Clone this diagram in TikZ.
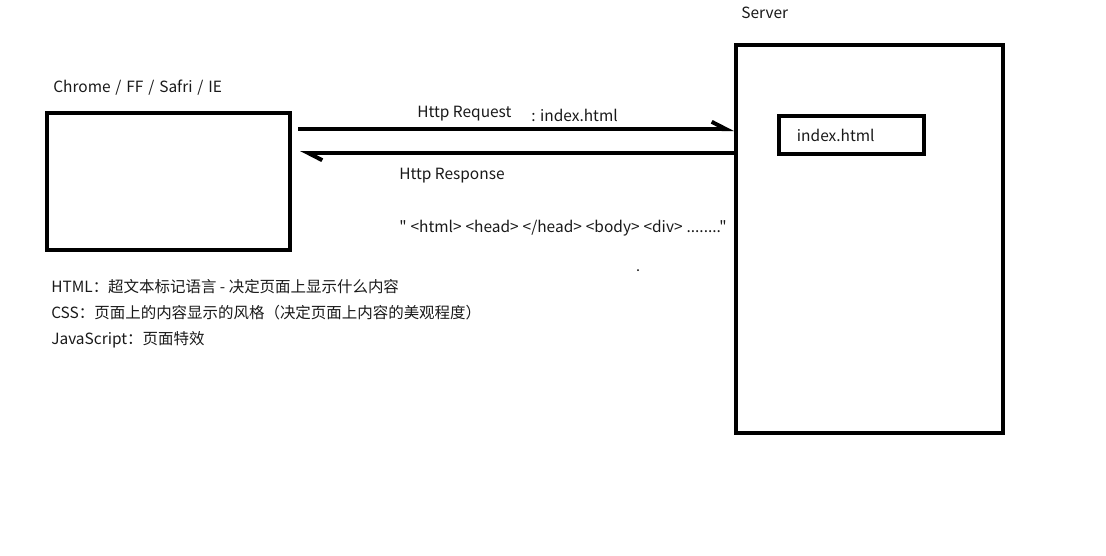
\documentclass[tikz,border=0pt]{standalone}
\usepackage{fontspec}
\setmainfont{Noto Sans CJK SC}[Ligatures=TeXOff]
\usetikzlibrary{arrows.meta}

\begin{document}
\begin{tikzpicture}[x=0.025cm,y=-0.025cm,
  txt/.style={shape=rectangle,draw=none,inner sep=0pt,anchor=west,text=black!90,font=\fontsize{11}{18.5}\selectfont},
  box/.style={draw=black,line width=0.1cm,shape=rectangle,inner sep=0pt},
  msg/.style={black,line width=0.1cm,-{Straight Barb[left,length=0.35cm,width=0.36cm]}}]

%% - Fix the canvas (1 unit = 1 pixel)
%% - --------------------------------------

\useasboundingbox (0,0) rectangle (1106,555);

%% - Draw boxes
%% - --------------------------------------

%% - browser
\node[box,minimum width=6.075cm,minimum height=3.425cm] (browser) at (168.5,181.5) {};

%% - server and the file it holds
\node[box,minimum width=6.675cm,minimum height=9.7cm] (server) at (869.5,239) {};
\node[txt,box,minimum height=0.95cm,text width=2.725cm,inner xsep=0.45cm,align=left,anchor=center] (indexfile) at (851.5,135) {index.html};

%% - Draw arrows
%% - --------------------------------------

\coordinate (req) at (298,129);
\coordinate (resp) at (300,153);

%% - Http Request
\draw[msg] (req) -- (server.west |- req);
%% - Http Response
\draw[msg] (server.west |- resp) -- (resp);

%% - Draw texts
%% - --------------------------------------

\node[txt] (browsername) at (53,88) {Chrome\hspace{1pt} /\hspace{1pt} FF\hspace{1pt} /\hspace{1pt} Safri\hspace{1pt} /\hspace{1pt} IE};
\node[txt] (servername) at (741,13) {Server};

\node[txt] (reqname) at (417,114) {Http Request};
\node[txt] (reqfile) at (531,115) {: index.html};
\node[txt] (respname) at (399,176) {Http Response};
\node[txt] (respbody) at (399,228) {"\hspace{2.8pt}<html>\hspace{2.8pt}<head>\hspace{2.8pt}</head>\hspace{2.8pt}<body>\hspace{2.8pt}<div>\hspace{2.8pt}........"};

\node[txt,align=left,anchor=north west] (notes) at (51,279) {HTML：超文本标记语言 - 决定页面上显示什么内容\\
CSS：页面上的内容显示的风格（决定页面上内容的美观程度）\\
JavaScript：页面特效};

%% - stray dot
\fill (638,270) circle (1);

\end{tikzpicture}
\end{document}
